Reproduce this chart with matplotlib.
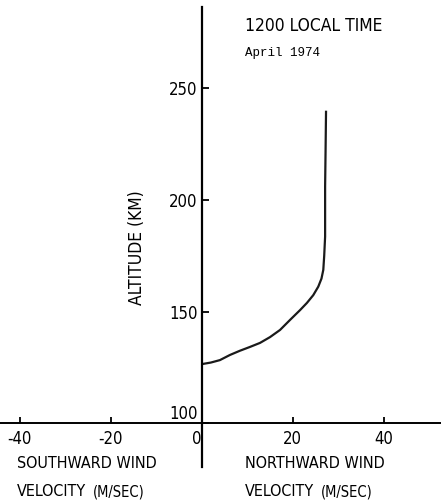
import numpy as np
import matplotlib.pyplot as plt

# wind profile
velocity = [0.3, 2.0, 4.0, 6.2, 8.4, 10.6, 12.8, 15.0, 17.2, 19.4, 21.6, 23.1, 24.5,
            25.6, 26.3, 26.7, 26.9, 27.1, 27.1, 27.2, 27.3]
altitude = [126.6, 127.2, 128.3, 130.6, 132.5, 134.2, 136.0, 138.6, 141.8, 146.3, 150.7,
            153.9, 157.4, 161.2, 164.8, 168.7, 175.0, 183.6, 206.0, 222.0, 239.5]

x_ticks = [-40, -20, 0, 20, 40]
x_ticklabels = ['-40', '-20', '0', '20', '40']
y_ticks = [100, 150, 200, 250]
y_ticklabels = ['100', '150', '200', '250']

W, H = 441, 504
plt.rcParams['font.family'] = ['DejaVu Sans']
plt.rcParams['font.stretch'] = 'condensed'

fig = plt.figure(figsize=(W / 100, H / 100), dpi=100)
ax = fig.add_axes([0, 0, 1, 1])

# pixel scale of the original: 4.554 px per m/s, 2.233 px per km
ax.set_xlim(-201.7 / 4.554, (W - 201.7) / 4.554)
ax.set_ylim(100 - (H - 423.3) / 2.233, 100 + 423.3 / 2.233)

ax.plot(velocity, altitude, color='#1a1a1a', lw=1.6)

for s in ['top', 'right']:
    ax.spines[s].set_visible(False)
ax.spines['left'].set_position(('data', 0))
ax.spines['bottom'].set_position(('data', 100))
ax.spines['left'].set_bounds(80.4, 286.4)
ax.spines['left'].set_linewidth(1.6)
ax.spines['bottom'].set_linewidth(1.4)
ax.patch.set_alpha(0)

ax.set_xticks(x_ticks)
ax.set_xticklabels(x_ticklabels)
ax.set_yticks(y_ticks)
ax.set_yticklabels(y_ticklabels)
ax.tick_params(axis='x', direction='in', length=4, width=1.3, pad=5, labelsize=12)
ax.tick_params(axis='y', direction='in', length=5, width=1.3, pad=3, labelsize=12)

for lab in ax.get_xticklabels():
    if lab.get_text() == '0':
        lab.set_ha('right')
for lab in ax.get_yticklabels():
    if lab.get_text() == '100':
        lab.set_va('bottom')


def px(x, y):
    return x / W, 1 - y / H


fig.text(*px(137, 248), 'ALTITUDE (KM)', rotation=90, ha='center', va='center', fontsize=12.5)
fig.text(*px(245, 26), '1200 LOCAL TIME', ha='left', va='center', fontsize=12.5)
fig.text(*px(245, 53), 'April 1974', ha='left', va='center', fontsize=9,
         family=['Liberation Mono', 'DejaVu Sans Mono'])

fig.text(*px(17, 464), 'SOUTHWARD WIND', ha='left', va='center', fontsize=11.5)
fig.text(*px(245, 464), 'NORTHWARD WIND', ha='left', va='center', fontsize=11.5)
for x0 in [17, 245]:
    fig.text(*px(x0, 491), 'VELOCITY', ha='left', va='center', fontsize=11.5)
    fig.text(*px(x0 + 76, 492), '(M/SEC)', ha='left', va='center', fontsize=10.5)

fig.savefig('out.png', dpi=100)
